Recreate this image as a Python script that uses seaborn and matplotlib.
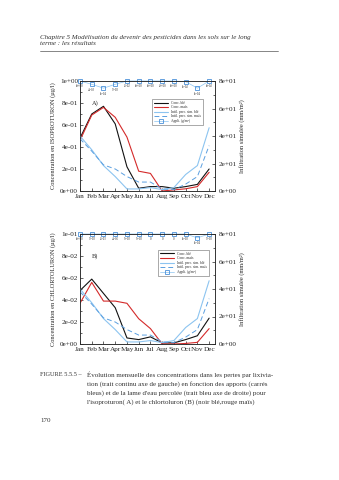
import matplotlib
matplotlib.use("Agg")
import matplotlib.pyplot as plt
from matplotlib.ticker import FuncFormatter, MultipleLocator
from matplotlib.lines import Line2D
import seaborn as sns
import pandas as pd

sns.set_style("ticks")
plt.rcParams['font.family'] = ['Liberation Serif', 'DejaVu Serif']
plt.rcParams['axes.unicode_minus'] = False

months = ["Jan", "Feb", "Mar", "Apr", "May", "Jun", "Jul", "Aug", "Sep", "Oct", "Nov", "Dec"]

# Panel A - isoproturon (left axis, ug/l)
iso_ble = [0.48, 0.70, 0.77, 0.61, 0.22, 0.025, 0.04, 0.04, 0.025, 0.04, 0.06, 0.20]
iso_mais = [0.46, 0.69, 0.76, 0.67, 0.49, 0.18, 0.16, 0.0, 0.01, 0.02, 0.04, 0.17]
iso_appli_pos = [1.0, 0.97, 0.935, 0.97, 1.0, 1.0, 1.0, 1.0, 1.0, 0.994, 0.935, 1.0]
iso_appli_lbl = ["6e+00", "4e-03", "1e-04", "7e-03", "3e-02", "6e+00", "6e+00", "2e+00", "6e+00", "1e-02", "1e-04", "6e-02"]

# Panel B - chlortoluron (left axis, ug/l)
chl_ble = [0.0486, 0.059, 0.046, 0.033, 0.0055, 0.004, 0.0065, 0.001, 0.001, 0.004, 0.0075, 0.0235]
chl_mais = [0.037, 0.056, 0.039, 0.039, 0.037, 0.023, 0.014, 0.0, 0.0, 0.0005, 0.0015, 0.014]
chl_appli_pos = [0.1, 0.1, 0.1, 0.1, 0.1, 0.1, 0.1, 0.1, 0.1, 0.1, 0.0965, 0.1]
chl_appli_lbl = ["6e+00", "7e-03", "3e-03", "4e-05", "5e-03", "5e-03", "0", "0", "0", "1e-03", "1e-04", "7e-03"]

# Simulated percolation (right axis, mm/m2)
infil_ble = [40, 30, 18.5, 10.5, 1.5, 1.5, 2.5, 1.0, 2.5, 12, 18.5, 46]
infil_mais = [38, 29, 19, 16, 10.5, 6.5, 6.5, 1.5, 1.0, 5, 10.5, 33]

BLACK = "#111111"
RED = "#d42a2a"
LBLUE = "#8cc4f0"
DBLUE = "#5b9fe0"
SQ = "#4a90d9"

W, H = 339, 480
fig = plt.figure(figsize=(W / 100, H / 100), dpi=100)
fig.patch.set_facecolor("white")

def fmt(v, _):
    return f"{v:.0e}"

def panel(top_px, ble, mais, appli_pos, appli_lbl, ymax, ylabel, tag, leg_xy):
    ax = fig.add_axes([80 / W, 1 - (top_px + 110) / H, 135 / W, 110 / H])
    x = list(range(12))
    df = pd.DataFrame({"m": x, "ble": ble, "mais": mais, "app": appli_pos,
                       "ib": infil_ble, "im": infil_mais})
    sns.lineplot(data=df, x="m", y="ble", ax=ax, color=BLACK, linewidth=0.8)
    sns.lineplot(data=df, x="m", y="mais", ax=ax, color=RED, linewidth=0.8)
    sns.lineplot(data=df, x="m", y="app", ax=ax, color=LBLUE, linewidth=0.5,
                 marker="s", markersize=2.8, markerfacecolor="none",
                 markeredgecolor=SQ, markeredgewidth=0.6, clip_on=False)
    for xi, yi, lb in zip(x, appli_pos, appli_lbl):
        ax.annotate(lb, (xi, yi), xytext=(0, -2.5), textcoords="offset points",
                    fontsize=2.2, ha="center", va="top", annotation_clip=False)
    ax.set_xlim(0, 11.5)
    ax.set_ylim(0, ymax)
    ax.yaxis.set_major_locator(MultipleLocator(ymax / 5))
    ax.yaxis.set_minor_locator(MultipleLocator(ymax / 10))
    ax.yaxis.set_major_formatter(FuncFormatter(fmt))
    ax.set_xticks(x)
    ax.set_xticklabels(months)
    ax.tick_params(axis="both", which="both", direction="in", labelsize=5.2,
                   width=0.5, pad=1.5)
    ax.tick_params(which="major", length=2.5)
    ax.tick_params(which="minor", length=1.3)
    ax.tick_params(axis="x", pad=2.5)
    ax.set_xlabel("")
    ax.set_ylabel(ylabel, fontsize=4.6, labelpad=3)
    for s in ax.spines.values():
        s.set_linewidth(0.5)
        s.set_visible(True)
    ax.text(0.09, 0.8, tag, transform=ax.transAxes, fontsize=4.6, ha="left", va="center")

    ax2 = ax.twinx()
    sns.lineplot(data=df, x="m", y="ib", ax=ax2, color=LBLUE, linewidth=0.8)
    sns.lineplot(data=df, x="m", y="im", ax=ax2, color=DBLUE, linewidth=0.7,
                 linestyle=(0, (5, 3)))
    ax2.set_ylim(0, 80)
    ax2.yaxis.set_major_locator(MultipleLocator(20))
    ax2.yaxis.set_minor_locator(MultipleLocator(10))
    ax2.yaxis.set_major_formatter(FuncFormatter(fmt))
    ax2.tick_params(axis="y", which="both", direction="in", labelsize=5.2, width=0.5, pad=2.5)
    ax2.tick_params(which="major", length=2.5)
    ax2.tick_params(which="minor", length=1.3)
    ax2.set_ylabel("Infiltration simulée (mm/m²)", fontsize=4.6, labelpad=2)
    ax2.set_xlabel("")
    for s in ax2.spines.values():
        s.set_linewidth(0.5)

    handles = [
        Line2D([], [], color=BLACK, lw=0.8),
        Line2D([], [], color=RED, lw=0.8),
        Line2D([], [], color=LBLUE, lw=0.8),
        Line2D([], [], color=DBLUE, lw=0.7, linestyle=(0, (5, 3))),
        Line2D([], [], color=LBLUE, lw=0.5, marker="s", markersize=2.8,
               markerfacecolor="none", markeredgecolor=SQ, markeredgewidth=0.6),
    ]
    labels = ["Conc. blé", "Conc. maïs", "Infil. perc. sim. blé",
              "Infil. perc. sim. maïs", "Appli. (g/m²)"]
    leg = ax2.legend(handles, labels, loc="upper left", bbox_to_anchor=leg_xy,
                     fontsize=2.6, frameon=True, fancybox=False, edgecolor="#444444",
                     handlelength=4, handletextpad=0.8, borderpad=0.5,
                     labelspacing=0.15, borderaxespad=0)
    leg.get_frame().set_linewidth(0.4)
    return ax, ax2

panel(81, iso_ble, iso_mais, iso_appli_pos, iso_appli_lbl, 1.0,
      "Concentration en ISOPROTURON (µg/l)", "A)", (0.533, 0.836))
panel(234, chl_ble, chl_mais, chl_appli_pos, chl_appli_lbl, 0.1,
      "Concentration en CHLORTOLURON (µg/l)", "B)", (0.578, 0.855))

def ft(xp, yp, s, **kw):
    fig.text(xp / W, 1 - yp / H, s, va="baseline", **kw)

ft(40, 38.5, "Chapitre 5 Modélisation du devenir des pesticides dans les sols sur le long",
   fontsize=5.05, style="italic", color="#333333")
ft(40, 45, "terme : les résultats", fontsize=5.05, style="italic", color="#333333")
fig.add_artist(Line2D([40 / W, 278 / W], [1 - 50.7 / H, 1 - 50.7 / H], color="#555555", lw=0.5))

ft(40, 376.5, "FIGURE 5.5.5 –", fontsize=4.5, color="#333333")
caption = [
    "Évolution mensuelle des concentrations dans les pertes par lixivia-",
    "tion (trait continu axe de gauche) en fonction des apports (carrés",
    "bleus) et de la lame d'eau percolée (trait bleu axe de droite) pour",
    "l'isoproturon( A) et le chlortoluron (B) (noir blé,rouge maïs)",
]
for i, line in enumerate(caption):
    ft(87, 376.5 + i * 9, line, fontsize=5.05, color="#333333")
ft(40, 421.5, "170", fontsize=5.05, color="#333333")

fig.savefig("out.png", dpi=100, facecolor="white")
